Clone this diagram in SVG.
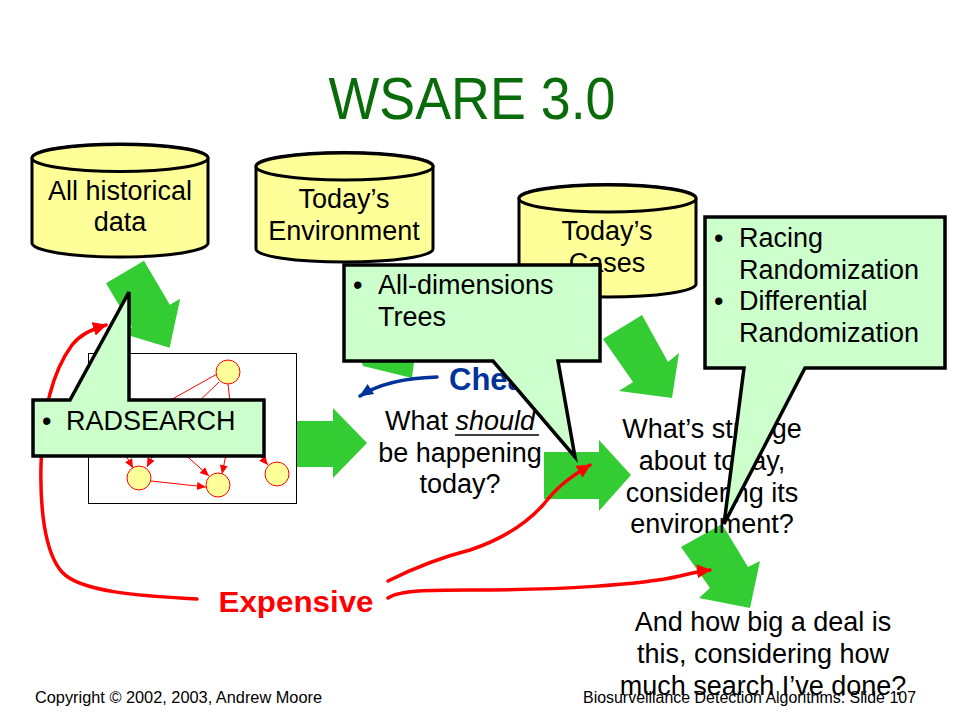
<svg xmlns="http://www.w3.org/2000/svg" width="960" height="720" viewBox="0 0 960 720">
<style>
.cyl{fill:#ffff99;stroke:#000;stroke-width:3}
.t{font-family:"Liberation Sans",Arial,sans-serif;font-size:27px;fill:#000}
.c{text-anchor:middle}
.garrow{fill:#33cc33}
.callout{fill:#ccffcc;stroke:#000;stroke-width:3.5;stroke-linejoin:miter}
.red{fill:none;stroke:#ff0000;stroke-width:3.5;stroke-linecap:round}
.gn{fill:#ffff99;stroke:#ff0000;stroke-width:1}
.ge{stroke:#ff0000;stroke-width:1;fill:none}
.foot{font-family:"Liberation Sans",Arial,sans-serif;font-size:16px;fill:#000}
</style>
<defs>
<marker id="rh" markerUnits="userSpaceOnUse" markerWidth="16" markerHeight="14" refX="13" refY="7" orient="auto"><path d="M0,0 L14,7 L0,14 Z" fill="#ff0000"/></marker>
<marker id="bh" markerUnits="userSpaceOnUse" markerWidth="16" markerHeight="14" refX="13" refY="7" orient="auto"><path d="M0,1 L14,7 L0,13 Z" fill="#003399"/></marker>
<marker id="sh" markerUnits="userSpaceOnUse" markerWidth="10" markerHeight="10" refX="9" refY="4" orient="auto"><path d="M0,0 L9,4 L0,8 Z" fill="#ff0000"/></marker>
</defs>
<rect width="960" height="720" fill="#fff"/>
<text x="472" y="119" font-family="Liberation Sans,Arial,sans-serif" font-size="60" fill="#0a6b0a" text-anchor="middle" textLength="287" lengthAdjust="spacingAndGlyphs">WSARE 3.0</text>

<g id="cyl-historical">
<path class="cyl" d="M32,158 V243 A88,14 0 0 0 208,243 V158 A88,14 0 0 0 32,158 Z"/>
<ellipse class="cyl" cx="120" cy="158" rx="88" ry="13.5"/>
<text class="t c" x="120" y="200">All historical</text>
<text class="t c" x="120" y="231">data</text>
</g>
<g id="cyl-environment">
<path class="cyl" d="M256,166 V249 A88.5,13 0 0 0 433,249 V166 A88.5,13.5 0 0 0 256,166 Z"/>
<ellipse class="cyl" cx="344.5" cy="166.5" rx="88.5" ry="13.5"/>
<text class="t c" x="344" y="208">Today’s</text>
<text class="t c" x="344" y="240">Environment</text>
</g>
<g id="cyl-cases">
<path class="cyl" d="M519,198 V284 A88.5,13 0 0 0 696,284 V198 A88.5,13.5 0 0 0 519,198 Z"/>
<ellipse class="cyl" cx="607.5" cy="198.5" rx="88.5" ry="13.5"/>
<text class="t c" x="607" y="240">Today’s</text>
<text class="t c" x="607" y="272">Cases</text>
</g>

<g id="green-arrows">
<path class="garrow" transform="translate(125,272) rotate(59.5)" d="M0,-22 L51,-22 L51,-34 L88,0 L51,34 L51,22 L0,22 Z"/>
<path class="garrow" d="M352,330 L363,366 L412,378 L418,330 Z"/>
<path class="garrow" d="M603,339 L642,315 L668,362 L679,353 L672,398 L619,391 L633,382 Z"/>
<path class="garrow" d="M280,421 H333 V408 L367,443 L333,478 V467 H280 Z"/>
<path class="garrow" d="M544,452 H599 V440 L631,475 L599,511 V499 H544 Z"/>
<path class="garrow" d="M681,547 L722,524 L748,567 L760,561 L750,608 L699,598 L710,588 Z"/>
</g>

<g id="graph">
<rect x="88.5" y="353.5" width="208" height="150" fill="#fff" stroke="#000" stroke-width="1"/>
<line class="ge" x1="217" y1="374" x2="160" y2="406"/>
<line class="ge" x1="219" y1="382" x2="190" y2="410"/>
<line class="ge" x1="228" y1="384" x2="231" y2="410"/>
<line class="ge" x1="120" y1="445" x2="133" y2="468" marker-end="url(#sh)"/>
<line class="ge" x1="158" y1="445" x2="147" y2="467" marker-end="url(#sh)"/>
<line class="ge" x1="180" y1="450" x2="209" y2="476" marker-end="url(#sh)"/>
<line class="ge" x1="228" y1="445" x2="222" y2="474" marker-end="url(#sh)"/>
<line class="ge" x1="151" y1="481" x2="206" y2="487" marker-end="url(#sh)"/>
<line class="ge" x1="255" y1="450" x2="268" y2="465" marker-end="url(#sh)"/>
<circle class="gn" cx="228" cy="372" r="12"/>
<circle class="gn" cx="139" cy="478" r="12"/>
<circle class="gn" cx="218" cy="485" r="12"/>
<circle class="gn" cx="277" cy="474" r="12"/>
</g>

<g id="q-should">
<text class="t c" x="460" y="430">What <tspan font-style="italic">should</tspan></text>
<line x1="455" y1="435" x2="539" y2="435" stroke="#000" stroke-width="1.5"/>
<text class="t c" x="460" y="462">be happening</text>
<text class="t c" x="460" y="493">today?</text>
</g>
<g id="q-strange">
<text class="t c" x="712" y="438">What’s strange</text>
<text class="t c" x="712" y="470">about today,</text>
<text class="t c" x="712" y="502">considering its</text>
<text class="t c" x="712" y="533">environment?</text>
</g>
<g id="q-bigdeal">
<text class="t c" x="763" y="631">And how big a deal is</text>
<text class="t c" x="763" y="663">this, considering how</text>
<text class="t c" x="763" y="695">much search I’ve done?</text>
</g>
<g id="expensive">
<text x="296" y="612" font-family="Liberation Sans,Arial,sans-serif" font-weight="bold" font-size="29" fill="#ff0000" text-anchor="middle" textLength="155" lengthAdjust="spacingAndGlyphs">Expensive</text>
</g>
<g id="cheap">
<text x="449" y="390" font-family="Liberation Sans,Arial,sans-serif" font-weight="bold" font-size="31" fill="#003399">Cheap</text>
</g>

<g id="connectors">
<path class="red" d="M197,599 C140,596 80,592 62,572 C44,552 40,505 41,465 C42,420 50,375 72,345 C80,335 90,330 106,325" marker-end="url(#rh)"/>
<path class="red" d="M388,581 C420,565 450,555 470,550 C500,540 525,525 543,505 C555,490 565,480 590,465" marker-end="url(#rh)"/>
<path class="red" d="M388,598 C400,590 430,590 470,590 C560,590 640,585 680,576 C692,573 700,571 710,570" marker-end="url(#rh)"/>
<path d="M437,377 C405,378 380,383 360,396" fill="none" stroke="#003399" stroke-width="3.5" stroke-linecap="round" marker-end="url(#bh)"/>
</g>

<g id="callout-trees">
<path class="callout" d="M344,265 H600 V361 H558 L575,457 L493,361 H344 Z"/>
<text class="t" x="353" y="294">•</text>
<text class="t" x="378" y="294">All-dimensions</text>
<text class="t" x="378" y="326">Trees</text>
</g>
<g id="callout-racing">
<path class="callout" d="M705,217 H945 V368 H805 L724,524 L744,368 H705 Z"/>
<text class="t" x="714" y="247">•</text>
<text class="t" x="739" y="247">Racing</text>
<text class="t" x="739" y="279">Randomization</text>
<text class="t" x="714" y="310">•</text>
<text class="t" x="739" y="310">Differential</text>
<text class="t" x="739" y="342">Randomization</text>
</g>
<g id="callout-radsearch">
<path class="callout" d="M33,400 H70 L129,292 L129,400 H264 V456 H33 Z"/>
<text class="t" x="42" y="430">•</text>
<text class="t" x="66" y="430">RADSEARCH</text>
</g>

<text class="foot" x="35" y="703" textLength="287" lengthAdjust="spacingAndGlyphs">Copyright © 2002, 2003, Andrew  Moore</text>
<text class="foot" x="583" y="703" textLength="333" lengthAdjust="spacingAndGlyphs">Biosurveillance  Detection Algorithms: Slide 107</text>
</svg>
